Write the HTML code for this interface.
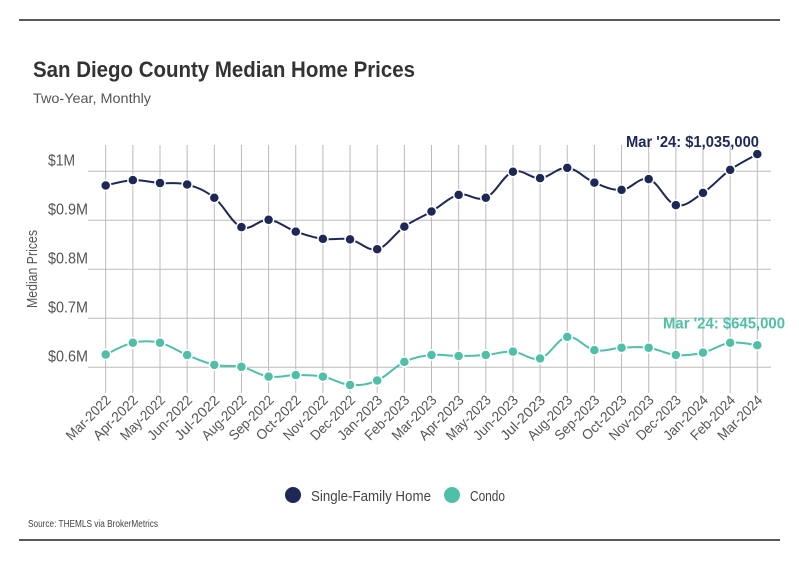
<!DOCTYPE html>
<html><head><meta charset="utf-8"><style>
body{margin:0;background:#fff;width:799px;height:575px;overflow:hidden;font-family:"Liberation Sans",sans-serif;}
svg text{font-family:"Liberation Sans",sans-serif;}
</style></head><body>
<svg width="799" height="575">
<line x1="19" y1="20" x2="780" y2="20" stroke="#222" stroke-width="1.5"/>
<text x="33" y="77" font-size="22" font-weight="bold" fill="#333" textLength="382" lengthAdjust="spacingAndGlyphs">San Diego County Median Home Prices</text>
<text x="33" y="103" font-size="14" fill="#555" textLength="118" lengthAdjust="spacingAndGlyphs">Two-Year, Monthly</text>
<g id="grid"></g><g id="plot"></g>
<text transform="translate(37,269) rotate(-90)" text-anchor="middle" font-size="15" fill="#555" textLength="78" lengthAdjust="spacingAndGlyphs">Median Prices</text>
<g>
<circle cx="293" cy="495" r="8" fill="#1e2857"/>
<text x="311" y="501" font-size="15" fill="#444" textLength="120" lengthAdjust="spacingAndGlyphs">Single-Family Home</text>
<circle cx="452" cy="495" r="8" fill="#4fbfa8"/>
<text x="470" y="501" font-size="15" fill="#444" textLength="35" lengthAdjust="spacingAndGlyphs">Condo</text>
</g>
<text x="28" y="527" font-size="10" fill="#444" textLength="130" lengthAdjust="spacingAndGlyphs">Source:  THEMLS via BrokerMetrics</text>
<line x1="19" y1="540" x2="780" y2="540" stroke="#222" stroke-width="1.5"/>
</svg>
<script>
const categories=["Mar-2022","Apr-2022","May-2022","Jun-2022","Jul-2022","Aug-2022","Sep-2022","Oct-2022","Nov-2022","Dec-2022","Jan-2023","Feb-2023","Mar-2023","Apr-2023","May-2023","Jun-2023","Jul-2023","Aug-2023","Sep-2023","Oct-2023","Nov-2023","Dec-2023","Jan-2024","Feb-2024","Mar-2024"];
const sfhValues=[0.971,0.982,0.976,0.973,0.946,0.886,0.901,0.877,0.862,0.861,0.841,0.887,0.918,0.952,0.946,0.999,0.986,1.007,0.977,0.962,0.984,0.931,0.956,1.003,1.035];
const condoValues=[0.626,0.650,0.650,0.625,0.605,0.601,0.581,0.584,0.581,0.564,0.573,0.611,0.625,0.623,0.625,0.632,0.618,0.662,0.635,0.640,0.640,0.625,0.630,0.650,0.645];
const yTicks=[0.6,0.7,0.8,0.9,1.0];
const yTickLabels=["$0.6M","$0.7M","$0.8M","$0.9M","$1M"];
const sfhLabel="Mar '24: $1,035,000";
const condoLabel="Mar '24: $645,000";
const NS="http://www.w3.org/2000/svg";
const x=i=>105.7+i*(757.3-105.7)/(categories.length-1);
const y=v=>171.3+(1-v)*490;
function mk(tag,attrs,parent){const e=document.createElementNS(NS,tag);for(const k in attrs)e.setAttribute(k,attrs[k]);parent.appendChild(e);return e;}
const grid=document.getElementById('grid'),plot=document.getElementById('plot');
yTicks.forEach((t,i)=>{
 const l=mk('line',{x1:88,x2:771,y1:y(t),y2:y(t),stroke:'#bbb','stroke-width':1},grid);
 
 
 const lab=yTickLabels[i];
 const tx=mk('text',{x:48,y:y(t)-6,'font-size':16,fill:'#555',textLength:lab.length>3?40:27,lengthAdjust:'spacingAndGlyphs'},grid);tx.textContent=lab;
 
 
});
categories.forEach((c,i)=>{
 const l=mk('line',{x1:x(i),x2:x(i),y1:145,y2:393,stroke:'#bbb','stroke-width':1},grid);
 
 
 const tx=mk('text',{transform:`translate(${x(i)+6},401) rotate(-45)`,'text-anchor':'end','font-size':14,fill:'#555',textLength:c.length*7.1,lengthAdjust:'spacingAndGlyphs'},grid);tx.textContent=c;
 
 
});
function path(vals){const p=vals.map((v,i)=>[x(i),y(v)]);let d=`M${p[0][0]},${p[0][1]}`;
 for(let i=0;i<p.length-1;i++){const p0=p[Math.max(0,i-1)],p1=p[i],p2=p[i+1],p3=p[Math.min(p.length-1,i+2)];const k=0.18;
 d+=` C${p1[0]+(p2[0]-p0[0])*k},${p1[1]+(p2[1]-p0[1])*k} ${p2[0]-(p3[0]-p1[0])*k},${p2[1]-(p3[1]-p1[1])*k} ${p2[0]},${p2[1]}`;}return d;}
function series(vals,color,name){
 const pth=mk('path',{d:path(vals),fill:'none',stroke:color,'stroke-width':2},plot);
 
 
 vals.forEach((v,i)=>{const c=mk('circle',{cx:x(i),cy:y(v),r:5,fill:color,stroke:'#fff','stroke-width':1.5},plot);
 
 });
}
series(sfhValues,'#1e2857','sfh');
series(condoValues,'#4fbfa8','condo');
const n=categories.length-1;
const a1=mk('text',{x:626,y:y(sfhValues[n])-7,'font-size':16,'font-weight':'bold',fill:'#1e2857',textLength:133,lengthAdjust:'spacingAndGlyphs'},plot);a1.textContent=sfhLabel;


const a2=mk('text',{x:663,y:y(condoValues[n])-17,'font-size':16,'font-weight':'bold',fill:'#4fbfa8',textLength:122,lengthAdjust:'spacingAndGlyphs'},plot);a2.textContent=condoLabel;


</script>
</body></html>
